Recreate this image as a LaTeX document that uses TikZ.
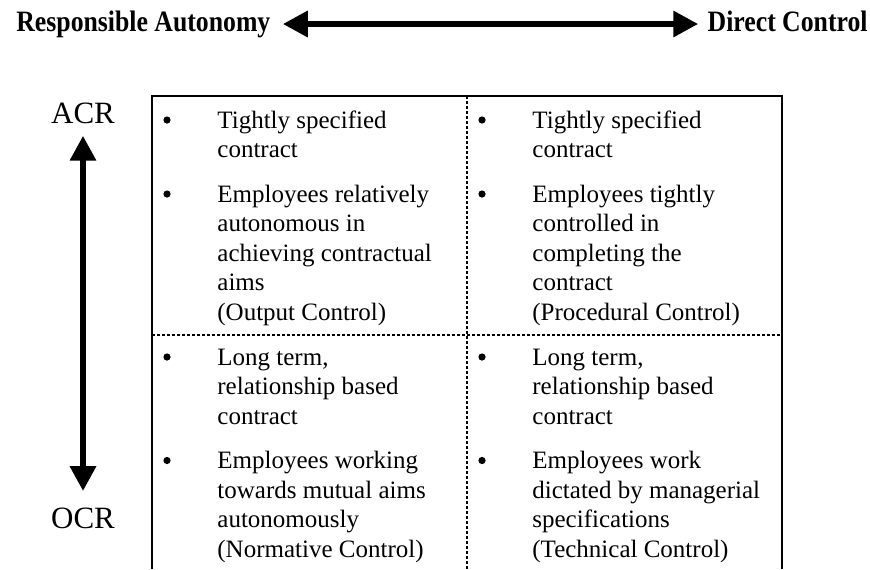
\documentclass[tikz,border=0pt]{standalone}
\usepackage{fontspec}
\setmainfont{Liberation Serif}
\newfontfamily\headfont{Liberation Serif}[FakeStretch=0.87]
\usetikzlibrary{arrows.meta}

% left aligned lines, baseline on the first one
\newcommand{\celltext}[1]{\begin{tabular}[t]{@{}l@{}}#1\end{tabular}}

\begin{document}
\begin{tikzpicture}[x=0.5pt, y=-0.5pt,
    bigarrow/.style={line width=3.2pt,
      {Triangle[length=12.5pt,width=12.5pt]}-{Triangle[length=12.5pt,width=12.5pt]}},
    border/.style={line width=0.6pt},
    split/.style={line width=0.6pt, dash pattern=on 1.5pt off 1pt},
    item/.style={anchor=base west, inner sep=0pt, font=\fontsize{12.5}{14.75}\selectfont},
    dot/.style={circle, fill, inner sep=0pt, minimum size=3.6pt},
    head/.style={inner sep=0pt, text height=10pt, text depth=3pt,
      font=\headfont\bfseries\fontsize{14.8}{16}\selectfont},
    axis/.style={inner sep=0pt, font=\fontsize{15.5}{17}\selectfont}]

  \useasboundingbox (0,0) rectangle (870,569);

  % heading with the double arrow between the two poles
  \node[head, anchor=base west] (ra) at (16,31) {Responsible Autonomy};
  \node[head, anchor=base east] (dc) at (868,31) {Direct Control};
  \draw[bigarrow] ([xshift=6pt]ra.east) -- ([xshift=-4.5pt]dc.west);

  % vertical axis
  \node[axis, anchor=base] (acr) at (83,123) {ACR};
  \node[axis, anchor=base] (ocr) at (83,528) {OCR};
  \draw[bigarrow] ([yshift=-6pt]acr.south) -- ([yshift=8pt]ocr.north);

  % table frame, open at the bottom
  \draw[border] (152,569) -- (152,96) -- (782,96) -- (782,569);
  \draw[split] (467,96) -- (467,569);
  \draw[split] (152,335) -- (782,335);

  % top left
  \node[dot] (b11) at (167,120) {};
  \node[item] (t11) at (217,128) {\celltext{Tightly specified\\contract}};
  \node[dot] (b12) at (167,194) {};
  \node[item] (t12) at (217,202) {\celltext{Employees relatively\\autonomous in\\achieving contractual\\aims\\(Output Control)}};

  % top right
  \node[dot] (b21) at (482,120) {};
  \node[item] (t21) at (532,128) {\celltext{Tightly specified\\contract}};
  \node[dot] (b22) at (482,194) {};
  \node[item] (t22) at (532,202) {\celltext{Employees tightly\\controlled in\\completing the\\contract\\(Procedural Control)}};

  % bottom left
  \node[dot] (b31) at (167,357) {};
  \node[item] (t31) at (217,365) {\celltext{Long term,\\relationship based\\contract}};
  \node[dot] (b32) at (167,460.5) {};
  \node[item] (t32) at (217,468.5) {\celltext{Employees working\\towards mutual aims\\autonomously\\(Normative Control)}};

  % bottom right
  \node[dot] (b41) at (482,357) {};
  \node[item] (t41) at (532,365) {\celltext{Long term,\\relationship based\\contract}};
  \node[dot] (b42) at (482,460.5) {};
  \node[item] (t42) at (532,468.5) {\celltext{Employees work\\dictated by managerial\\specifications\\(Technical Control)}};
\end{tikzpicture}
\end{document}
